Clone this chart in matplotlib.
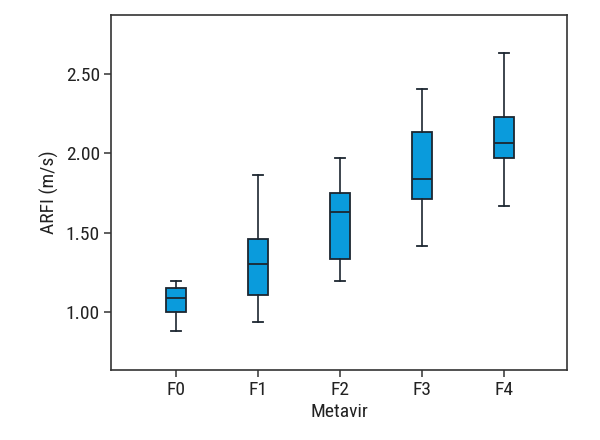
import matplotlib
matplotlib.use("Agg")
import matplotlib.pyplot as plt
from matplotlib import font_manager

categories = ["F0", "F1", "F2", "F3", "F4"]
whisker_low = [0.885, 0.937, 1.199, 1.414, 1.667]
q1 = [1.000, 1.111, 1.336, 1.713, 1.972]
median = [1.088, 1.307, 1.629, 1.836, 2.062]
q3 = [1.155, 1.458, 1.748, 2.131, 2.225]
whisker_high = [1.199, 1.863, 1.972, 2.402, 2.630]
yticks = [1.00, 1.50, 2.00, 2.50]

names = {f.name for f in font_manager.fontManager.ttflist}
fam = ["Open Sans", "DejaVu Sans"]
for cand in ["Liberation Sans Narrow", "Roboto Condensed", "Open Sans Condensed", "DejaVu Sans Condensed"]:
    if cand in names:
        fam = [cand, "DejaVu Sans"]
        break
plt.rcParams["font.family"] = fam

fig = plt.figure(figsize=(6, 4.4), dpi=100)
ax = fig.add_axes([0.185, 0.159, 0.76, 0.807])

stats = []
for i, c in enumerate(categories):
    stats.append(dict(label=c, whislo=whisker_low[i], q1=q1[i], med=median[i],
                      q3=q3[i], whishi=whisker_high[i], fliers=[]))

edge = "#1c2630"
ax.bxp(stats, positions=range(len(categories)), widths=0.25, patch_artist=True,
       showfliers=False,
       boxprops=dict(facecolor="#0A9BDC", edgecolor=edge, linewidth=1.3),
       medianprops=dict(color=edge, linewidth=1.3),
       whiskerprops=dict(color=edge, linewidth=1.2),
       capprops=dict(color=edge, linewidth=1.3))

ax.set_xlim(-0.79, 4.77)
ax.set_ylim(0.638, 2.868)
ax.set_yticks(yticks)
ax.set_yticklabels([f"{v:.2f}" for v in yticks])
ax.set_xticks(range(len(categories)))
ax.set_xticklabels(categories)
for s in ax.spines.values():
    s.set_color("#333333")
    s.set_linewidth(1.2)
ax.tick_params(axis="both", direction="out", length=5, width=1.1, color="#333333",
               labelsize=14, labelcolor="#222222", pad=3)
ax.set_xlabel("Metavir", fontsize=14, color="#222222", labelpad=3)
ax.set_ylabel("ARFI (m/s)", fontsize=14, color="#222222", labelpad=5)

fig.savefig("out.png", dpi=100)
